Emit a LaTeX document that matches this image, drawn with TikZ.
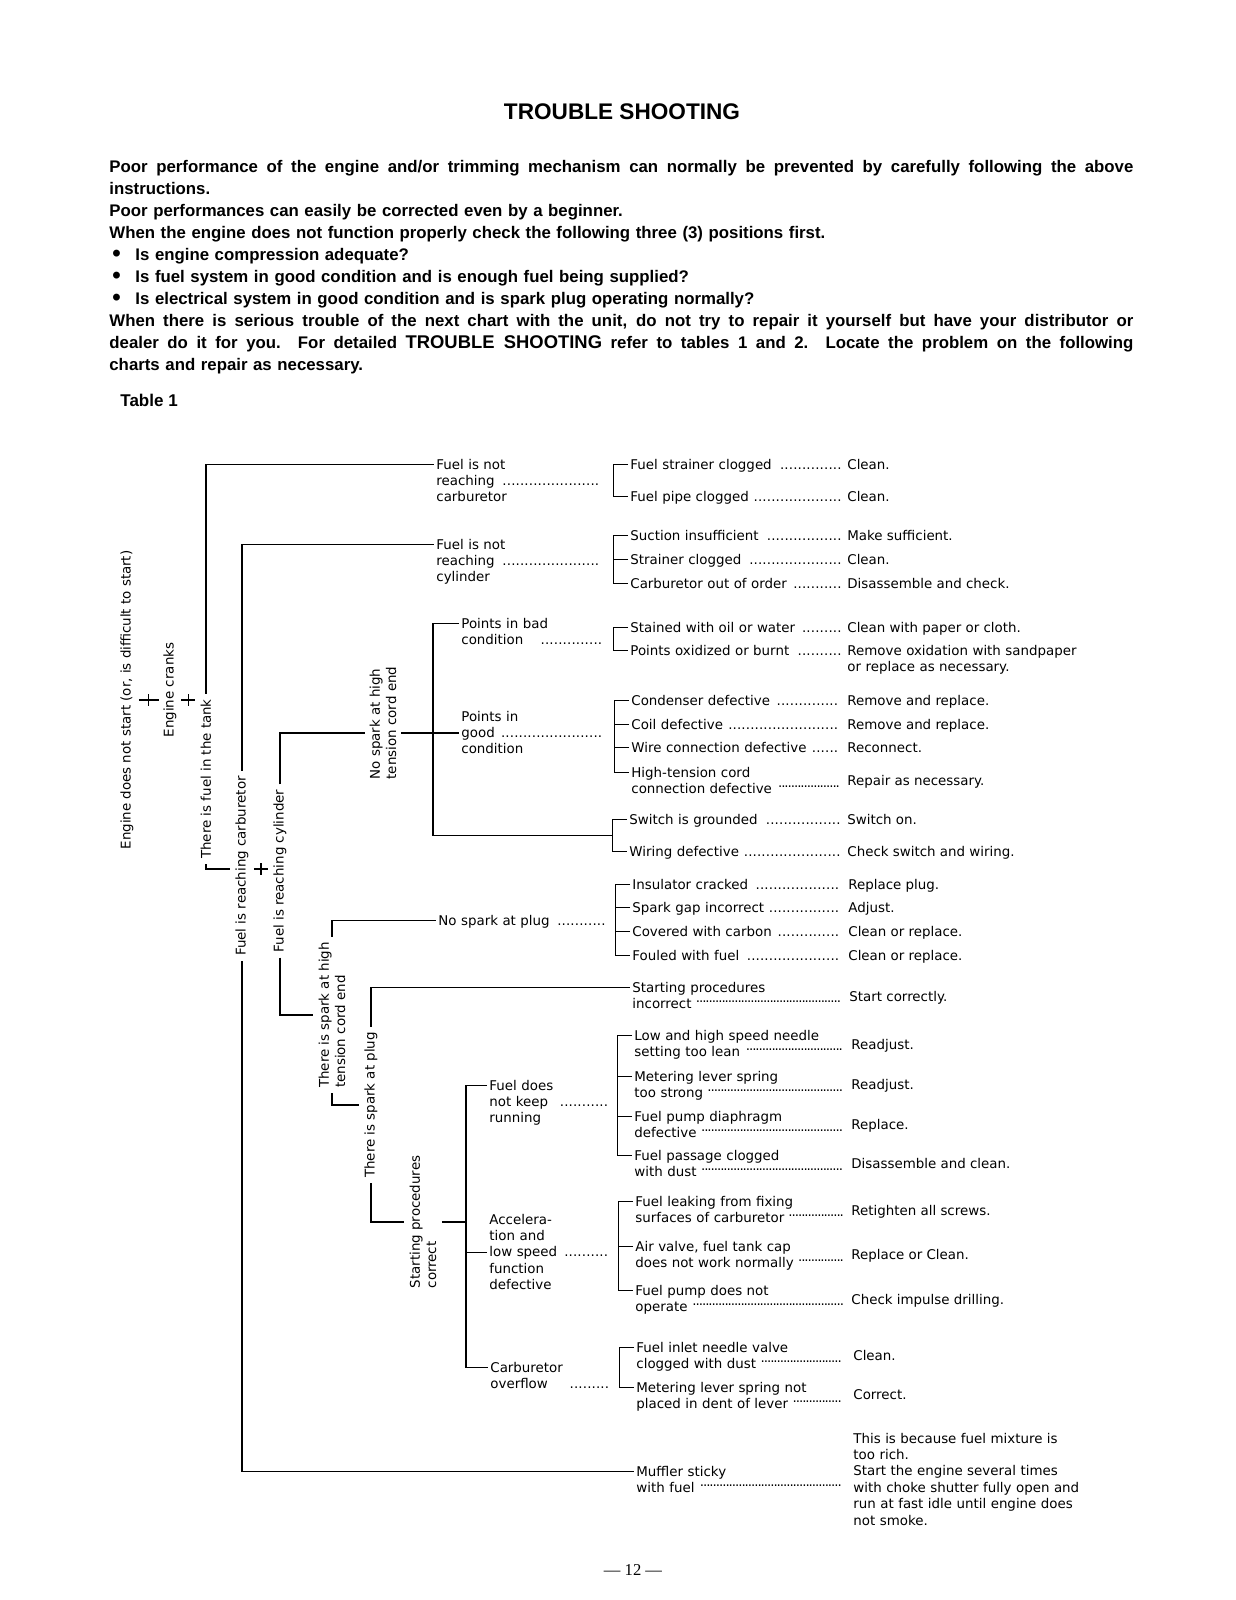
\documentclass[tikz,border=0pt]{standalone}
\usepackage{fontspec}
\setmainfont{Liberation Sans}
\newfontfamily\chartfont{DejaVu Sans}
\newfontfamily\foliofont{Liberation Serif}
\usetikzlibrary{calc}
\usetikzlibrary{backgrounds}
% dotted leaders: on the baseline, and raised for two-line causes
\newcommand\lead{\leavevmode\leaders\hbox to 2.2pt{\hss.\hss}\hskip 0pt plus 1fill\kern0pt}
\newcommand\hilead{\leavevmode\leaders\hbox to 1.6pt{\hss\raisebox{3pt}{.}\hss}\hskip 0pt plus 1fill\kern0pt}
\newcommand\bul{\makebox[13pt][l]{\hspace{1.5pt}\raisebox{-0.6pt}{\fontsize{12}{11}\selectfont\textbullet}}}
% a justified line of the notes
\newcommand\fullline[1]{\makebox[512pt][s]{\spaceskip=0pt\xspaceskip=0pt #1}}
\tikzset{
  % chart text, placed by its first baseline
  chart/.style={font=\chartfont\fontsize{6.7}{8.2}\selectfont, inner sep=0pt, anchor=base west},
  % block of fixed width, so that leaders can run to its edge
  lab/.style={chart, text width=#1, align=left},
  % column heading, read upwards
  vlab/.style={font=\chartfont\fontsize{6.7}{8.2}\selectfont, rotate=90, fill=white,
    inner sep=2.5pt, align=left},
  % hooks on the first, second and third line of a block
  hk/.style={xshift=-1pt, yshift=2.2pt},
  hkb/.style={xshift=-1pt, yshift=-6pt},
  hkc/.style={xshift=-1pt, yshift=-14.2pt},
  trunk/.style={draw=black, line width=0.8pt},
  brk/.style={draw=black, line width=0.5pt},
}

\begin{document}
\begin{tikzpicture}[x=0.5pt, y=-0.5pt]
  \useasboundingbox (0,0) rectangle (1236,1600);

  % --- Heading and notes ----------------------------------------------
  \node[font=\fontsize{11.3}{13}\selectfont\bfseries] (title) at (622,112) {TROUBLE SHOOTING};
  \node[anchor=base west, inner sep=0pt, text width=512pt, align=left,
        font=\fontsize{8.4}{11}\selectfont\bfseries] (intro) at (109,172) {%
    \fullline{Poor performance of the engine and/or trimming mechanism can normally be prevented by carefully following the above}\\
    instructions.\\
    Poor performances can easily be corrected even by a beginner.\\
    When the engine does not function properly check the following three (3) positions first.\\
    \bul Is engine compression adequate?\\
    \bul Is fuel system in good condition and is enough fuel being supplied?\\
    \bul Is electrical system in good condition and is spark plug operating normally?\\
    \fullline{When there is serious trouble of the next chart with the unit, do not try to repair it yourself but have your distributor or}\\
    \fullline{dealer do it for you.\ \ For detailed {\fontsize{9.2}{11}\selectfont TROUBLE SHOOTING} refer to tables 1 and 2.\ \ Locate the problem on the following}\\
    charts and repair as necessary.};
  \node[anchor=base west, inner sep=0pt, font=\fontsize{8.5}{10}\selectfont\bfseries] (tabname) at (120,406) {Table 1};

  % --- Column headings (read upwards) ----------------------------------
  \node[vlab] (eng)       at (127,700)  {Engine does not start (or, is difficult to start)};
  \node[vlab] (cranks)    at (170,690)  {Engine cranks};
  \node[vlab] (tank)      at (206,779)  {There is fuel in the tank};
  \node[vlab] (rcarb)     at (242,866)  {Fuel is reaching carburetor};
  \node[vlab] (rcyl)      at (280,871)  {Fuel is reaching cylinder};
  \node[vlab] (nosparkhi) at (383,723)  {No spark at high\\tension cord end};
  \node[vlab] (sparkhi)   at (332,1015) {There is spark at high\\tension cord end};
  \node[vlab] (splug)     at (371,1105) {There is spark at plug};
  \node[vlab] (spcorr)    at (423,1222) {Starting procedures\\correct};

  % --- Symptoms ---------------------------------------------------------
  \node[lab=83.5pt] (nrcarb)  at (436,469)  {Fuel is not\\reaching \lead\\carburetor};
  \node[lab=83.5pt] (nrcyl)   at (436,549)  {Fuel is not\\reaching \lead\\cylinder};
  \node[lab=71.5pt] (ptbad)   at (461,628)  {Points in bad\\condition\hspace{8pt}\lead};
  \node[lab=71.5pt] (ptgood)  at (461,721)  {Points in\\good \lead\\condition};
  \node[lab=85pt]   (nsplug)  at (438,925)  {No spark at plug \lead};
  \node[lab=60.5pt] (fuelrun) at (489,1090) {Fuel does\\not keep\hspace{5pt}\lead\\running};
  \node[lab=60.5pt] (accel)   at (489,1224) {Accelera-\\tion and\\low speed \lead\\function\\defective};
  \node[lab=60.5pt] (carbof)  at (490,1372) {Carburetor\\overflow\hspace{10pt}\lead};

  % --- Causes -----------------------------------------------------------
  \node[lab=106pt] (strainer)  at (630,469) {Fuel strainer clogged \lead};
  \node[lab=106pt] (pipe)      at (630,501) {Fuel pipe clogged \lead};
  \node[lab=106pt] (suction)   at (630,540) {Suction insufficient \lead};
  \node[lab=106pt] (strainerb) at (630,564) {Strainer clogged \lead};
  \node[lab=106pt] (carbout)   at (630,588) {Carburetor out of order \lead};
  \node[lab=106pt] (stained)   at (630,632) {Stained with oil or water \lead};
  \node[lab=106pt] (oxid)      at (630,655) {Points oxidized or burnt \lead};
  \node[lab=105.5pt] (cond)    at (631,705) {Condenser defective \lead};
  \node[lab=105.5pt] (coil)    at (631,729) {Coil defective \lead};
  \node[lab=105.5pt] (wire)    at (631,752) {Wire connection defective \lead};
  \node[lab=105.5pt] (hten)    at (631,777) {High-tension cord\\connection defective \hilead};
  \node[lab=106.5pt] (swgnd)   at (629,824) {Switch is grounded \lead};
  \node[lab=106.5pt] (wiring)  at (629,856) {Wiring defective \lead};
  \node[lab=105pt] (insul)     at (632,889) {Insulator cracked \lead};
  \node[lab=105pt] (gap)       at (632,912) {Spark gap incorrect \lead};
  \node[lab=105pt] (carbon)    at (632,936) {Covered with carbon \lead};
  \node[lab=105pt] (fouled)    at (632,960) {Fouled with fuel \lead};
  \node[lab=105pt] (sprinc)    at (632,992) {Starting procedures\\incorrect \hilead};
  \node[lab=105pt] (needle)    at (634,1040) {Low and high speed needle\\setting too lean \hilead};
  \node[lab=105pt] (lever)     at (634,1081) {Metering lever spring\\too strong \hilead};
  \node[lab=105pt] (pump)      at (634,1121) {Fuel pump diaphragm\\defective \hilead};
  \node[lab=105pt] (passage)   at (634,1160) {Fuel passage clogged\\with dust \hilead};
  \node[lab=104.5pt] (leak)    at (635,1206) {Fuel leaking from fixing\\surfaces of carburetor \hilead};
  \node[lab=104.5pt] (airv)    at (635,1251) {Air valve, fuel tank cap\\does not work normally \hilead};
  \node[lab=104.5pt] (fpump)   at (635,1295) {Fuel pump does not\\operate \hilead};
  \node[lab=104pt] (inlet)     at (636,1352) {Fuel inlet needle valve\\clogged with dust \hilead};
  \node[lab=104pt] (notdent)   at (636,1392) {Metering lever spring not\\placed in dent of lever \hilead};
  \node[lab=104pt] (muff)      at (636,1476) {Muffler sticky\\with fuel \hilead};

  % --- Remedies ---------------------------------------------------------
  \node[chart] (fixstrainer)  at (847,469) {Clean.};
  \node[chart] (fixpipe)      at (847,501) {Clean.};
  \node[chart] (fixsuction)   at (847,540) {Make sufficient.};
  \node[chart] (fixstrainerb) at (847,564) {Clean.};
  \node[chart] (fixcarbout)   at (847,588) {Disassemble and check.};
  \node[chart] (fixstained)   at (847,632) {Clean with paper or cloth.};
  \node[lab=140pt] (fixoxid)  at (847,655) {Remove oxidation with sandpaper\\or replace as necessary.};
  \node[chart] (fixcond)      at (847,705) {Remove and replace.};
  \node[chart] (fixcoil)      at (847,729) {Remove and replace.};
  \node[chart] (fixwire)      at (847,752) {Reconnect.};
  \node[chart] (fixhten)      at (847,785) {Repair as necessary.};
  \node[chart] (fixswgnd)     at (847,824) {Switch on.};
  \node[chart] (fixwiring)    at (847,856) {Check switch and wiring.};
  \node[chart] (fixinsul)     at (848,889) {Replace plug.};
  \node[chart] (fixgap)       at (848,912) {Adjust.};
  \node[chart] (fixcarbon)    at (848,936) {Clean or replace.};
  \node[chart] (fixfouled)    at (848,960) {Clean or replace.};
  \node[chart] (fixsprinc)    at (849,1001) {Start correctly.};
  \node[chart] (fixneedle)    at (851,1049) {Readjust.};
  \node[chart] (fixlever)     at (851,1089) {Readjust.};
  \node[chart] (fixpump)      at (851,1129) {Replace.};
  \node[chart] (fixpassage)   at (851,1168) {Disassemble and clean.};
  \node[chart] (fixleak)      at (851,1215) {Retighten all screws.};
  \node[chart] (fixairv)      at (851,1259) {Replace or Clean.};
  \node[chart] (fixfpump)     at (851,1304) {Check impulse drilling.};
  \node[chart] (fixinlet)     at (853,1360) {Clean.};
  \node[chart] (fixnotdent)   at (853,1399) {Correct.};
  \node[lab=150pt] (fixmuff)  at (853,1443) {This is because fuel mixture is\\too rich.\\Start the engine several times\\with choke shutter fully open and\\run at fast idle until engine does\\not smoke.};

  \node[font=\foliofont\fontsize{8.3}{10}\selectfont] (folio) at (633,1570) {— 12 —};

  % --- Connectors -------------------------------------------------------
  \begin{scope}[on background layer]
    \fill[white] (0,0) rectangle (1236,1600);

    % chain of headings
    \draw[trunk] (eng.south) -- (eng.south -| tank.north);
    \draw[trunk] ($(eng.south)!.5!(eng.south -| cranks.north)$) ++(0,-6) -- ++(0,12);
    \draw[trunk] ($(eng.south -| cranks.south)!.5!(eng.south -| tank.north)$) ++(0,-6) -- ++(0,12);
    \draw[trunk] (tank.west) -- ++(0,5) coordinate (tk) -- (tk -| rcarb.north);
    \draw[trunk] (tk -| rcarb.south) -- (tk -| rcyl.north);
    \draw[trunk] ($(tk -| rcarb.south)!.5!(tk -| rcyl.north)$) ++(0,-6) -- ++(0,12);

    % fuel branches
    \draw[trunk] (tank.east) |- ([hk]nrcarb.base west);
    \draw[trunk] (rcarb.east) |- ([hk]nrcyl.base west);
    \draw[trunk] (rcarb.west) |- ([hk]muff.base west);

    % ignition branches
    \coordinate (swj) at ($([hk]swgnd.base west)!.5!([hk]wiring.base west)+(-15,0)$);
    \draw[trunk] (rcyl.east) |- ([hkb]ptgood.base west);
    \draw[trunk] ([hk]ptbad.base west) -- ++(-26,0) |- (swj);
    \draw[trunk] (rcyl.west) |- (sparkhi.north);
    \draw[trunk] (sparkhi.east) |- ([hk]nsplug.base west);
    \draw[trunk] (sparkhi.west) |- (splug.north);
    \draw[trunk] (splug.east) |- ([hk]sprinc.base west);
    \draw[trunk] (splug.west) |- (spcorr.north);

    % carburetor branches
    \draw[trunk] ([hk]fuelrun.base west) -- ++(-21,0) coordinate (spbus) |- ([hk]carbof.base west);
    \draw[trunk] ([hkc]accel.base west) -- ++(-21,0);
    \draw[trunk] (spcorr.south) -- (spcorr.south -| spbus);

    % brackets round the causes
    \draw[brk] ([hk]strainer.base west) -- ++(-15,0) |- ([hk]pipe.base west);
    \draw[brk] ([hk]suction.base west) -- ++(-15,0) |- ([hk]carbout.base west);
    \draw[brk] ([hk]strainerb.base west) -- ++(-15,0);
    \draw[brk] ([hk]stained.base west) -- ++(-15,0) |- ([hk]oxid.base west);
    \draw[brk] ([hk]cond.base west) -- ++(-15,0) |- ([hk]hten.base west);
    \foreach \c in {coil,wire}
      \draw[brk] ([hk]\c.base west) -- ++(-15,0);
    \draw[brk] ([hk]swgnd.base west) -- ++(-15,0) |- ([hk]wiring.base west);
    \draw[brk] ([hk]insul.base west) -- ++(-15,0) |- ([hk]fouled.base west);
    \foreach \c in {gap,carbon}
      \draw[brk] ([hk]\c.base west) -- ++(-15,0);
    \draw[brk] ([hk]needle.base west) -- ++(-15,0) |- ([hk]passage.base west);
    \foreach \c in {lever,pump}
      \draw[brk] ([hk]\c.base west) -- ++(-15,0);
    \draw[brk] ([hk]leak.base west) -- ++(-15,0) |- ([hk]fpump.base west);
    \draw[brk] ([hk]airv.base west) -- ++(-15,0);
    \draw[brk] ([hk]inlet.base west) -- ++(-15,0) |- ([hk]notdent.base west);
  \end{scope}
\end{tikzpicture}
\end{document}
